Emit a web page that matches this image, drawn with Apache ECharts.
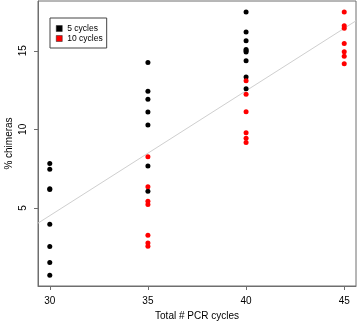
<!DOCTYPE html>
<html><head><meta charset="utf-8">
<script src="https://cdn.jsdelivr.net/npm/echarts@6/dist/echarts.min.js"></script>
<style>html,body{margin:0;padding:0;background:#fff}#c{width:358px;height:322px}</style>
</head><body><div id="c"></div>
<script>
var seriesNames = ['5 cycles', '10 cycles'];
var xTicks = [30, 35, 40, 45];
var yTicks = [5, 10, 15];
// 5 cycles (black)
var fiveX = [30,30,30,30,30,30,30,30, 35,35,35,35,35,35,35, 40,40,40,40,40,40,40,40,40];
var fiveY = [7.83,7.46,6.22,6.18,3.96,2.54,1.52,0.71, 14.26,12.43,11.92,11.11,10.27,7.66,6.06, 17.47,16.19,15.64,15.09,15.0,14.92,14.36,13.34,12.58];
// 10 cycles (red)
var tenX = [35,35,35,35,35,35,35, 40,40,40,40,40,40, 45,45,45,45,45,45,45];
var tenY = [8.25,6.34,5.43,5.22,3.26,2.77,2.56, 13.09,12.24,11.12,9.78,9.44,9.17, 17.47,16.6,16.43,15.47,14.94,14.66,14.17];
// fitted line endpoints
var lineX = [29.4, 45.6];
var lineY = [4.03, 16.91];

function pairs(xs, ys){ return xs.map(function(x,i){ return [x, ys[i]]; }); }

var chart = echarts.init(document.getElementById('c'), null, {renderer:'canvas'});
var font = 'Liberation Sans, Arial, sans-serif';
chart.setOption({
  animation: false,
  backgroundColor: '#fff',
  textStyle: {fontFamily: font},
  grid: {left: 38, right: 2, top: 1, bottom: 36, outerBoundsMode: 'none', containLabel: false,
         show: true, borderColor: '#6e6e6e', borderWidth: 1, backgroundColor: 'transparent'},
  legend: {
    data: [{name: seriesNames[0], icon: 'rect', itemStyle: {borderColor: '#222', borderWidth: 0.5}},
           {name: seriesNames[1], icon: 'rect', itemStyle: {borderColor: '#222', borderWidth: 0.5}}],
    orient: 'vertical', left: 50, top: 18, itemWidth: 6, itemHeight: 6, itemGap: 1,
    padding: [6, 4, 5, 6], borderColor: '#444', borderWidth: 1,
    textStyle: {fontSize: 8.5, lineHeight: 8, color: '#000', fontFamily: font, padding: [0,0,0,0]}
  },
  xAxis: {
    type: 'value', min: 29.4, max: 45.6,
    name: 'Total # PCR cycles', nameLocation: 'middle', nameGap: 25, nameMoveOverlap: false,
    nameTextStyle: {fontSize: 10, color: '#000', fontFamily: font},
    axisLine: {show: true, lineStyle: {color: '#6e6e6e'}},
    axisTick: {show: true, inside: false, length: 4, lineStyle: {color: '#6e6e6e'}, customValues: xTicks},
    axisLabel: {fontSize: 10, color: '#000', margin: 10, customValues: xTicks, fontFamily: font},
    splitLine: {show: false}
  },
  yAxis: {
    type: 'value', min: 0.03, max: 18.17,
    name: '% chimeras', nameLocation: 'middle', nameGap: 24, nameRotate: 90, nameMoveOverlap: false,
    nameTextStyle: {fontSize: 10, color: '#000', fontFamily: font},
    axisLine: {show: true, lineStyle: {color: '#6e6e6e'}},
    axisTick: {show: true, inside: false, length: 4, lineStyle: {color: '#6e6e6e'}, customValues: yTicks},
    axisLabel: {fontSize: 10, color: '#000', margin: 10, rotate: 90, customValues: yTicks, fontFamily: font},
    splitLine: {show: false}
  },
  series: [
    {name: 'fit', type: 'line', data: pairs(lineX, lineY), symbol: 'none',
     lineStyle: {color: '#cfcfcf', width: 1}, silent: true, z: 1},
    {name: seriesNames[0], type: 'scatter', data: pairs(fiveX, fiveY), symbolSize: 5,
     itemStyle: {color: '#000', opacity: 1}, z: 3},
    {name: seriesNames[1], type: 'scatter', data: pairs(tenX, tenY), symbolSize: 5,
     itemStyle: {color: '#ff0000', opacity: 1}, z: 4}
  ]
});
</script></body></html>
